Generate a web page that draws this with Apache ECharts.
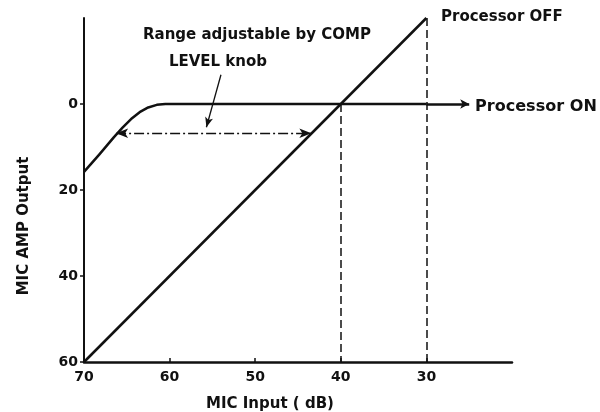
<!DOCTYPE html>
<html><head><meta charset="utf-8">
<script src="https://cdn.jsdelivr.net/npm/echarts@6/dist/echarts.min.js"></script>
<style>html,body{margin:0;padding:0;background:#fff}#c{width:600px;height:412px}</style>
</head><body><div id="c"></div>
<script>
// MIC Input (dB) ticks and MIC AMP Output ticks
const xTicks = [70, 60, 50, 40, 30];
const yTicks = [0, 20, 40, 60];
// Processor ON curve: [input dB, output]
const onCurve = [[70, 15.8], [68.2, 11.7], [66.5, 7.7], [65.5, 5.5], [64.5, 3.5], [63.5, 1.9], [62.5, 0.8], [61.5, 0.2], [60.5, 0], [30, 0]];
const onArrowEnd = 25;
// Processor OFF line
const offLine = [[70, 60], [30, -20]];
// Adjustable range (dash-dot double arrow)
const rangeArrow = [[66.25, 6.8], [43.44, 6.8]];
// Leader from annotation to the range arrow
const leader = [[54.0, -6.8], [55.7, 5.4]];
// Dashed reference verticals
const dashedRefs = [[[40, 0], [40, 60]], [[30, -20], [30, 60]]];

const FONT = 'DejaVu Sans';
const F = 'bold 15px "' + FONT + '"';
const chart = echarts.init(document.getElementById('c'));
const txt = (t, x, y, align, extra) => Object.assign({
  type: 'text', x: x, y: y,
  style: { text: t, fill: '#111', font: F, textAlign: align || 'left', textVerticalAlign: 'middle' }
}, extra || {});

chart.setOption({
  animation: false,
  backgroundColor: '#fff',
  grid: { left: 84, right: 88, top: 18, bottom: 50 },
  xAxis: {
    type: 'value', min: 20, max: 70, interval: 10, inverse: true,
    axisLine: { onZero: false, lineStyle: { color: '#111', width: 2.5 } },
    axisTick: { inside: true, length: 4, customValues: xTicks, lineStyle: { color: '#111', width: 1.5 } },
    splitLine: { show: false },
    axisLabel: { margin: 8, color: '#111', fontFamily: FONT, fontWeight: 'bold', fontSize: 14,
      customValues: xTicks, formatter: v => String(v) }
  },
  yAxis: {
    type: 'value', min: -20, max: 60, interval: 20, inverse: true,
    axisLine: { onZero: false, lineStyle: { color: '#111', width: 2 } },
    axisTick: { length: 4, customValues: yTicks, lineStyle: { color: '#111', width: 1.5 } },
    splitLine: { show: false },
    axisLabel: { margin: 6, color: '#111', fontFamily: FONT, fontWeight: 'bold', fontSize: 14,
      customValues: yTicks, formatter: v => String(v) }
  },
  series: [
    {
      name: 'Processor ON', type: 'line', data: onCurve, smooth: false,
      showSymbol: false, symbol: 'none', lineStyle: { color: '#111', width: 2.5, join: 'round' },
      markLine: {
        silent: true, symbol: ['none', 'arrow'], symbolSize: [7, 9], label: { show: false },
        lineStyle: { color: '#111', width: 2.5, type: 'solid' },
        data: [[{ coord: [30, 0] }, { coord: [onArrowEnd, 0] }]]
      }
    },
    {
      name: 'Processor OFF', type: 'line', data: offLine, showSymbol: false, symbol: 'none',
      lineStyle: { color: '#111', width: 2.5 },
      markLine: {
        silent: true, symbol: ['none', 'none'], label: { show: false },
        lineStyle: { color: '#111', width: 1.5, type: [8, 4] },
        data: dashedRefs.map(s => [{ coord: s[0] }, { coord: s[1] }])
      }
    },
    {
      name: 'range', type: 'line', data: [],
      markLine: {
        silent: true, label: { show: false }, symbol: ['arrow', 'arrow'], symbolSize: [7, 12],
        lineStyle: { color: '#111', width: 1.3, type: [10, 3, 2, 3] },
        data: [[{ coord: rangeArrow[0] }, { coord: rangeArrow[1] }]]
      }
    },
    {
      name: 'leader', type: 'line', data: [],
      markLine: {
        silent: true, label: { show: false }, symbol: ['none', 'arrow'], symbolSize: [6, 10],
        lineStyle: { color: '#111', width: 1.3, type: 'solid' },
        data: [[{ coord: leader[0] }, { coord: leader[1] }]]
      }
    }
  ],
  graphic: [
    txt('Processor OFF', 441, 17),
    txt('Processor ON', 475, 107, 'left', { scaleX: 1.07 }),
    txt('Range adjustable by COMP', 257, 35, 'center'),
    txt('LEVEL knob', 218, 62, 'center'),
    txt('MIC Input ( dB)', 270, 404, 'center'),
    txt('MIC AMP Output', 24, 226, 'center', { rotation: Math.PI / 2 })
  ]
});
</script></body></html>
